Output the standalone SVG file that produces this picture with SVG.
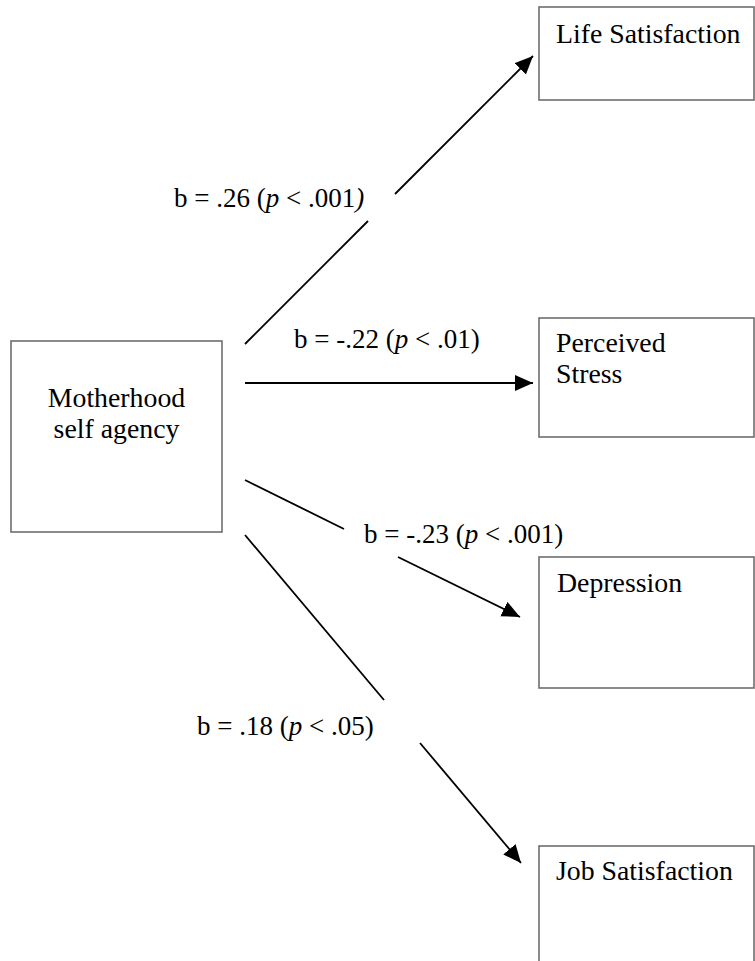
<svg xmlns="http://www.w3.org/2000/svg" width="755" height="961" viewBox="0 0 755 961">
  <style>
    .box { fill: #ffffff; stroke: #6e6e6e; stroke-width: 1.6; }
    .lbl { font-family: "Liberation Serif", "Times New Roman", serif; font-size: 27px; fill: #000000; }
    .name { font-size: 27.8px; }
    .it { font-style: italic; }
    .edge { stroke: #000000; stroke-width: 1.8; fill: none; }
  </style>
  <defs>
    <marker id="arrow" markerUnits="userSpaceOnUse" markerWidth="20" markerHeight="18" refX="18" refY="8" orient="auto">
      <path d="M0,0 L18,8 L0,16 Z" fill="#000000"/>
    </marker>
  </defs>
  <rect width="755" height="961" fill="#ffffff"/>

  <!-- nodes -->
  <g id="node-agency">
    <rect class="box" x="11" y="341" width="211" height="191"/>
    <text class="lbl name" x="116.5" y="407" text-anchor="middle">Motherhood</text>
    <text class="lbl name" x="116.5" y="438" text-anchor="middle">self agency</text>
  </g>
  <g id="node-life">
    <rect class="box" x="539" y="7" width="215" height="93"/>
    <text class="lbl name" x="556" y="43">Life Satisfaction</text>
  </g>
  <g id="node-stress">
    <rect class="box" x="539" y="318" width="215" height="119"/>
    <text class="lbl name" x="556" y="352">Perceived</text>
    <text class="lbl name" x="556" y="383">Stress</text>
  </g>
  <g id="node-depression">
    <rect class="box" x="539" y="557" width="215" height="131"/>
    <text class="lbl name" x="557" y="592">Depression</text>
  </g>
  <g id="node-job">
    <rect class="box" x="539" y="846" width="215" height="130"/>
    <text class="lbl name" x="556" y="880">Job Satisfaction</text>
  </g>

  <!-- connectors -->
  <g id="connectors">
    <path class="edge" d="M245,344 L368,221"/>
    <path class="edge" d="M395,194 L533,56" marker-end="url(#arrow)"/>
    <path class="edge" d="M245,383 L533,383" marker-end="url(#arrow)"/>
    <path class="edge" d="M245,480 L344,529"/>
    <path class="edge" d="M398,557 L520,617" marker-end="url(#arrow)"/>
    <path class="edge" d="M245,535 L384,700"/>
    <path class="edge" d="M420,743 L521,863" marker-end="url(#arrow)"/>
  </g>

  <!-- path coefficients -->
  <g id="edge-labels">
    <text class="lbl" x="174" y="207">b = .26 (<tspan class="it">p</tspan> &lt; .001<tspan class="it">)</tspan></text>
    <text class="lbl" x="294" y="348">b = -.22 (<tspan class="it">p</tspan> &lt; .01)</text>
    <text class="lbl" x="364" y="543">b = -.23 (<tspan class="it">p</tspan> &lt; .001)</text>
    <text class="lbl" x="197" y="735">b = .18 (<tspan class="it">p</tspan> &lt; .05)</text>
  </g>
</svg>
